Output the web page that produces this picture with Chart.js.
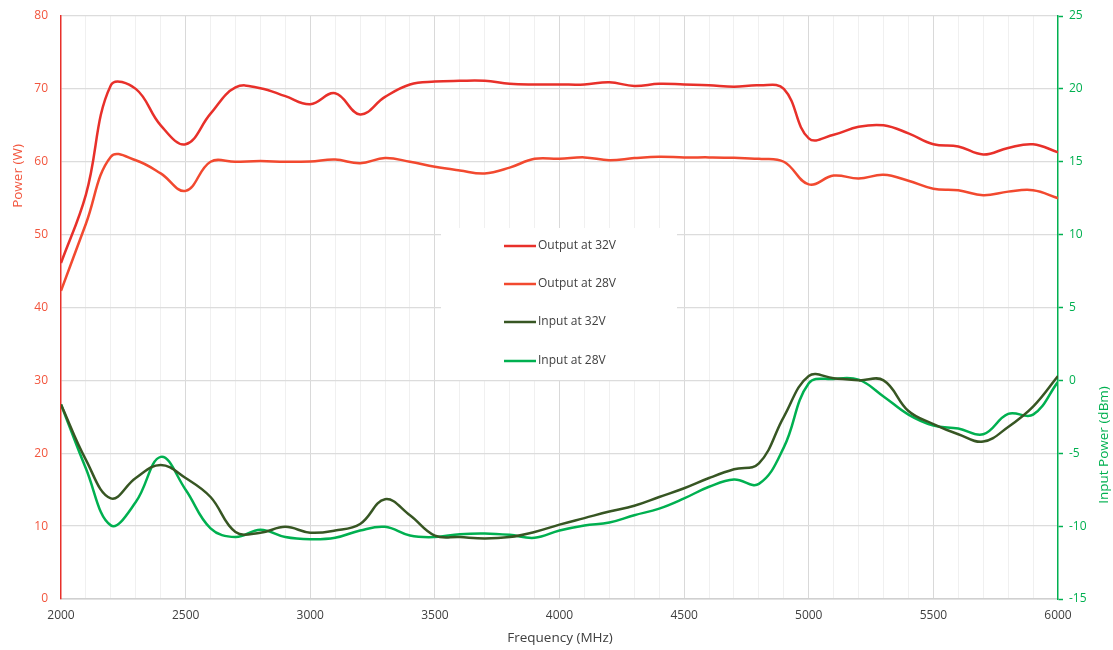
<!DOCTYPE html>
<html><head><meta charset="utf-8">
<script src="https://cdn.jsdelivr.net/npm/chart.js@4"></script>
<style>html,body{margin:0;padding:0;background:#fff}#wrap{width:1113px;height:650px;position:relative}</style>
</head><body><div id="wrap"><canvas id="c" width="1113" height="650"></canvas></div>
<script>
const freq = [2000,2100,2200,2300,2400,2500,2600,2700,2800,2900,3000,3100,3200,3300,3400,3500,3600,3700,3800,3900,4000,4100,4200,4300,4400,4500,4600,4700,4800,4900,5000,5100,5200,5300,5400,5500,5600,5700,5800,5900,6000];
const output32 = [46.1,55.5,70.5,70,65,62.4,66.6,70.2,70.1,69,67.9,69.4,66.5,68.9,70.6,71,71.1,71.1,70.7,70.6,70.6,70.6,70.9,70.4,70.7,70.6,70.5,70.3,70.5,70,63.2,63.7,64.8,65.0,63.9,62.4,62.1,61,61.9,62.4,61.3];
const output28 = [42.3,51.5,60.7,60.2,58.4,56,60,60,60.1,60,60.05,60.3,59.8,60.5,60,59.3,58.8,58.4,59.2,60.4,60.4,60.6,60.2,60.5,60.7,60.6,60.6,60.55,60.4,60,56.9,58.1,57.7,58.2,57.4,56.3,56.1,55.4,55.9,56.1,55];
const input32 = [-1.65,-5.45,-8.1,-6.7,-5.8,-6.7,-8,-10.4,-10.45,-10.05,-10.45,-10.3,-9.85,-8.15,-9.25,-10.65,-10.75,-10.85,-10.75,-10.4,-9.9,-9.45,-9,-8.6,-8,-7.4,-6.7,-6.1,-5.7,-2.5,0.3,0.15,0,0,-2.1,-3.0,-3.7,-4.2,-3.2,-1.8,0.3];
const input28 = [-1.65,-6.05,-9.95,-8.35,-5.25,-7.5,-10.15,-10.75,-10.25,-10.75,-10.9,-10.8,-10.3,-10.05,-10.65,-10.75,-10.55,-10.5,-10.6,-10.8,-10.3,-9.95,-9.75,-9.25,-8.8,-8.1,-7.3,-6.8,-7.1,-4.6,-0.2,0.1,0.05,-1.1,-2.35,-3.1,-3.3,-3.7,-2.3,-2.35,-0.1];
const seriesNames = ['Output at 32V','Output at 28V','Input at 32V','Input at 28V'];
const xTitle = 'Frequency (MHz)';
const yLeftTitle = 'Power (W)';
const yRightTitle = 'Input Power (dBm)';

const FONT = '"Open Sans", sans-serif';
const pts = arr => arr.map((v,i)=>({x:freq[i], y:v}));
const colors = ['#e8302a','#f2492f','#375623','#00b050'];

const legendPlugin = {
  id:'legendBox',
  afterDraw(chart){
    const ctx = chart.ctx;
    ctx.save();
    ctx.fillStyle='#fff';
    ctx.fillRect(441,228,236,152);
    const rows=[246,284,322,361];
    chart.data.datasets.forEach((ds,i)=>{
      ctx.strokeStyle=ds.borderColor; ctx.lineWidth=2.5;
      ctx.beginPath(); ctx.moveTo(504,rows[i]); ctx.lineTo(536,rows[i]); ctx.stroke();
      ctx.fillStyle='#404040'; ctx.font='12px '+FONT; ctx.textBaseline='middle'; ctx.textAlign='left';
      ctx.fillText(ds.label,538,rows[i]);
    });
    ctx.font='13.5px '+FONT;
    ctx.textAlign='center'; ctx.textBaseline='middle';
    ctx.fillStyle='#404040';
    ctx.fillText(xTitle,560,638);
    ctx.save(); ctx.translate(18,176); ctx.rotate(-Math.PI/2);
    ctx.fillStyle='#f2553d'; ctx.fillText(yLeftTitle,0,0); ctx.restore();
    ctx.save(); ctx.translate(1104,445); ctx.rotate(-Math.PI/2);
    ctx.fillStyle='#00b050'; ctx.fillText(yRightTitle,0,0); ctx.restore();
    ctx.restore();
  }
};

function fixV(w){ return s=>{ s.width=w; s.paddingTop=0; s.paddingBottom=0; }; }

new Chart(document.getElementById('c'),{
  type:'line',
  data:{datasets:[
    {label:seriesNames[0],data:pts(output32),borderColor:colors[0],yAxisID:'y'},
    {label:seriesNames[1],data:pts(output28),borderColor:colors[1],yAxisID:'y'},
    {label:seriesNames[2],data:pts(input32),borderColor:colors[2],yAxisID:'y2'},
    {label:seriesNames[3],data:pts(input28),borderColor:colors[3],yAxisID:'y2'}
  ]},
  options:{
    responsive:false, animation:false,
    layout:{padding:{top:16,left:0,right:0,bottom:0}},
    elements:{point:{radius:0},line:{borderWidth:2.5,tension:0.4,fill:false}},
    plugins:{legend:{display:false},tooltip:{enabled:false}},
    scales:{
      x:{type:'linear',min:2000,max:6000,
        afterFit(s){s.height=51; s.paddingLeft=0; s.paddingRight=0;},
        ticks:{stepSize:100,autoSkip:false,maxRotation:0,padding:9,color:'#404040',font:{family:FONT,size:12},
          callback:v=> (v%500===0? String(v):'')},
        grid:{drawTicks:false,color:c=>{const v=c.tick&&c.tick.value; if(v===2000||v===6000) return 'rgba(0,0,0,0)'; return v%500===0?'#d9d9d9':'#f0f0f0';}},
        border:{color:'#d0d0d0',width:1.5}
      },
      y:{position:'left',min:0,max:80,
        afterFit:fixV(61),
        ticks:{stepSize:10,padding:13,color:'#f2553d',font:{family:FONT,size:12}},
        grid:{drawTicks:false,color:'#dcdcdc',lineWidth:1.3},
        border:{color:'#e8302a',width:1.5}
      },
      y2:{position:'right',min:-15,max:25,
        afterFit:fixV(55),
        ticks:{stepSize:5,padding:6,color:'#00b050',font:{family:FONT,size:12}},
        grid:{drawOnChartArea:false,drawTicks:true,tickLength:5,tickColor:'#00b050',tickWidth:1.5},
        border:{color:'#00b050',width:1.5}
      }
    }
  },
  plugins:[legendPlugin]
});
</script></body></html>
